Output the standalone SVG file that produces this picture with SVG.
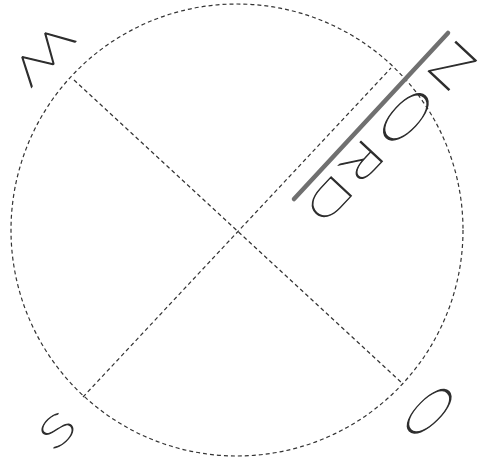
<svg xmlns="http://www.w3.org/2000/svg" width="493" height="470" viewBox="0 0 493 470">
<style>
.dash{fill:none;stroke:#333;stroke-width:1.2;stroke-dasharray:4 3}
.lt{font-family:Lato,'DejaVu Sans',sans-serif;font-weight:100;font-size:40px;fill:#2e2e2e;stroke:#2e2e2e;stroke-width:0.9;text-anchor:middle}
</style>
<rect width="493" height="470" fill="#fff"/>
<g id="connectors">
<circle class="dash" cx="237" cy="230" r="226"/>
<line class="dash" x1="74" y1="80" x2="403" y2="384"/>
<line class="dash" x1="83" y1="397" x2="391" y2="68"/>
<line x1="448" y1="33" x2="294" y2="199" stroke="#707070" stroke-width="4.5" stroke-linecap="round"/>
</g>
<g id="label-N"><text class="lt" transform="translate(452.5,66) rotate(133) scale(1.95,1)" y="14.3">N</text></g>
<g id="label-O1"><text class="lt" transform="translate(406,117) rotate(133) scale(2.3,1)" style="font-size:38px" y="13.6">O</text></g>
<g id="label-R"><text class="lt" transform="translate(363,161) rotate(133) scale(1.8,1.05)" y="14.3">R</text></g>
<g id="label-D"><text class="lt" transform="translate(330,199) rotate(133) scale(1.6,1)" y="14.3">D</text></g>
<g id="label-W"><text class="lt" transform="translate(44,55) rotate(134) scale(1.7,1)" y="14.3">W</text></g>
<g id="label-S"><text class="lt" transform="translate(57,430) rotate(-43) scale(1.7,1)" y="14.3">S</text></g>
<g id="label-O2"><text class="lt" transform="translate(429,411) rotate(-45) scale(2.5,1)" style="font-size:34px" y="12.2">O</text></g>
</svg>
